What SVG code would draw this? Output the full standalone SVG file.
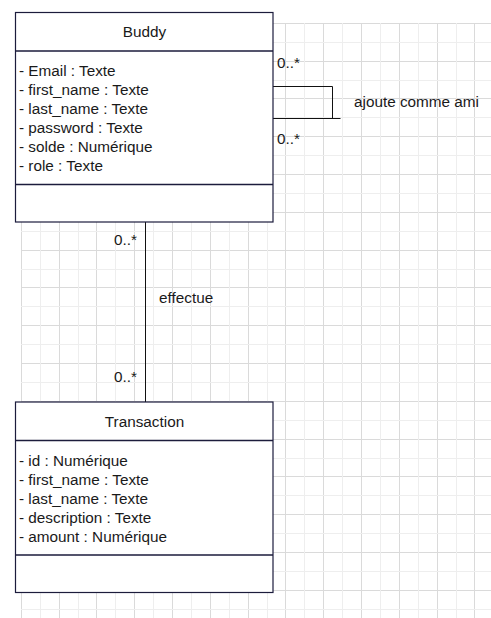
<svg xmlns="http://www.w3.org/2000/svg" width="491" height="618" viewBox="0 0 491 618">
<style>
.t{font-family:"Liberation Sans",Arial,sans-serif;font-size:15.3px;fill:#1a1a1a}
.c{text-anchor:middle}
.e{text-anchor:end}
.box{fill:#ffffff;stroke:#1c1c3c;stroke-width:1.2}
.sep{stroke:#1c1c3c;stroke-width:1.3;fill:none}
.edge{stroke:#111111;stroke-width:1;fill:none}
</style>
<rect width="491" height="618" fill="#ffffff"/>
<g id="grid">
<path stroke="#dadada" stroke-width="1" fill="none" d="M21.5 23V618M59.5 23V618M96.5 23V618M134.5 23V618M172.5 23V618M210.5 23V618M248.5 23V618M285.5 23V618M323.5 23V618M361.5 23V618M399.5 23V618M437.5 23V618M474.5 23V618M21 23.5H491M21 61.5H491M21 98.5H491M21 136.5H491M21 174.5H491M21 212.5H491M21 250.5H491M21 287.5H491M21 325.5H491M21 363.5H491M21 401.5H491M21 439.5H491M21 476.5H491M21 514.5H491M21 552.5H491M21 590.5H491"/>
<path stroke="#eeeeee" stroke-width="1" fill="none" d="M40.5 23V618M78.5 23V618M115.5 23V618M153.5 23V618M191.5 23V618M229.5 23V618M267.5 23V618M304.5 23V618M342.5 23V618M380.5 23V618M418.5 23V618M456.5 23V618M21 42.5H491M21 80.5H491M21 117.5H491M21 155.5H491M21 193.5H491M21 231.5H491M21 269.5H491M21 306.5H491M21 344.5H491M21 382.5H491M21 420.5H491M21 458.5H491M21 495.5H491M21 533.5H491M21 571.5H491M21 609.5H491"/>
</g>
<g id="connectors">
<path class="edge" d="M145.5 222V402"/>
<path class="edge" d="M273 86.5H332.5V118.5M273 118.5H340.5"/>
<text class="t e" x="137" y="245">0..*</text>
<text class="t e" x="137" y="382">0..*</text>
<text class="t" x="159" y="303">effectue</text>
<text class="t" x="277" y="68">0..*</text>
<text class="t" x="277" y="144">0..*</text>
<text class="t" x="354" y="107">ajoute comme ami</text>
</g>
<g id="buddy">
<rect class="box" x="15.5" y="12.5" width="257.5" height="209.5"/>
<path class="sep" d="M15.5 51H273M15.5 184.5H273"/>
<text class="t c" x="144.5" y="37">Buddy</text>
<text class="t" x="19" y="76">- Email : Texte</text>
<text class="t" x="19" y="95">- first_name : Texte</text>
<text class="t" x="19" y="114">- last_name : Texte</text>
<text class="t" x="19" y="133">- password : Texte</text>
<text class="t" x="19" y="152">- solde : Numérique</text>
<text class="t" x="19" y="171">- role : Texte</text>
</g>
<g id="transaction">
<rect class="box" x="15.5" y="402" width="257.5" height="190.5"/>
<path class="sep" d="M15.5 440.5H273M15.5 555H273"/>
<text class="t c" x="144.5" y="427">Transaction</text>
<text class="t" x="19" y="466">- id : Numérique</text>
<text class="t" x="19" y="485">- first_name : Texte</text>
<text class="t" x="19" y="504">- last_name : Texte</text>
<text class="t" x="19" y="523">- description : Texte</text>
<text class="t" x="19" y="542">- amount : Numérique</text>
</g>
</svg>
